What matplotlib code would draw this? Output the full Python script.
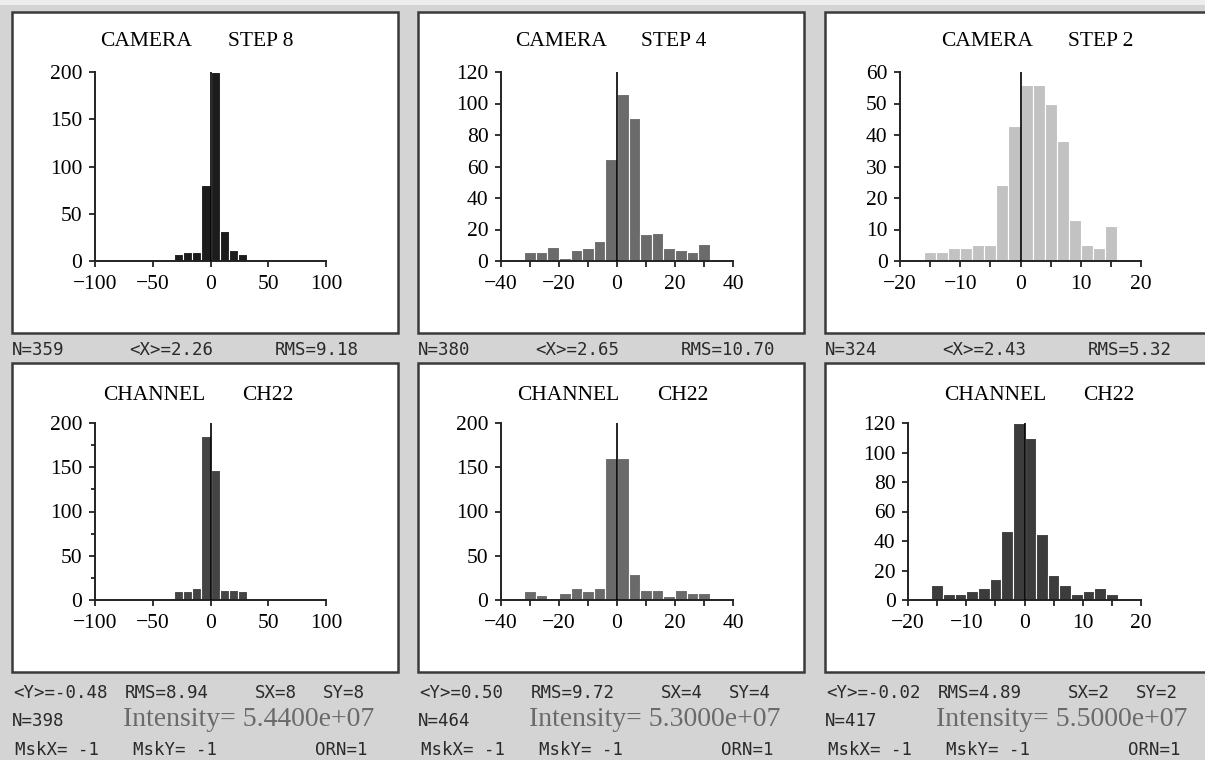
import matplotlib
matplotlib.use("Agg")
import matplotlib.pyplot as plt
from matplotlib.patches import Rectangle
from matplotlib.ticker import MultipleLocator

# ---- data ----
# top row: CAMERA, bins of 8 / 4 / 2
step8_centers = [-28, -20, -12, -4, 4, 12, 20, 28]
cam8_counts = [7, 10, 9, 80, 200, 32, 12, 7]

step4_centers = [-30, -26, -22, -18, -14, -10, -6, -2, 2, 6, 10, 14, 18, 22, 26, 30]
cam4_counts = [6, 6, 9, 2, 7, 8, 13, 65, 106, 91, 17, 18, 8, 7, 6, 11]

step2_centers = [-15, -13, -11, -9, -7, -5, -3, -1, 1, 3, 5, 7, 9, 11, 13, 15]
cam2_counts = [3, 3, 4, 4, 5, 5, 24, 43, 56, 56, 50, 38, 13, 5, 4, 11]

# bottom row: CHANNEL CH22
ch8_counts = [10, 10, 14, 185, 147, 11, 11, 10]
ch4_counts = [10, 6, 0, 8, 13, 10, 14, 161, 160, 29, 11, 11, 4, 11, 8, 8]
ch2_counts = [10, 4, 4, 6, 8, 14, 47, 120, 110, 45, 17, 10, 4, 6, 8, 4]

cam_labels = ["STEP 8", "STEP 4", "STEP 2"]
cam_stats = [("N=359", "<X>=2.26", "RMS=9.18"),
             ("N=380", "<X>=2.65", "RMS=10.70"),
             ("N=324", "<X>=2.43", "RMS=5.32")]
ch_stats = [("<Y>=-0.48", "RMS=8.94", "SX=8", "SY=8", "N=398", "Intensity= 5.4400e+07"),
            ("<Y>=0.50", "RMS=9.72", "SX=4", "SY=4", "N=464", "Intensity= 5.3000e+07"),
            ("<Y>=-0.02", "RMS=4.89", "SX=2", "SY=2", "N=417", "Intensity= 5.5000e+07")]

W, H = 1205, 760
fig = plt.figure(figsize=(W / 100, H / 100), dpi=100, facecolor="#d4d4d4")


def fx(px):
    return px / W


def fy(py):
    return 1 - py / H


def ax_at(left, right, top, bottom):
    return fig.add_axes([fx(left), fy(bottom), (right - left) / W, (bottom - top) / H])


# light strip at the very top
fig.add_artist(Rectangle((0, fy(5)), 1, 5 / H, transform=fig.transFigure,
                         facecolor="#ededed", edgecolor="none", zorder=-2))

# white frames (behind the axes)
lefts = [12, 418, 825]
rights = [398, 804, 1215]
for (top, bot) in [(12, 333), (363, 672)]:
    for l, r in zip(lefts, rights):
        fig.add_artist(Rectangle((fx(l), fy(bot)), (r - l) / W, (bot - top) / H,
                                 transform=fig.transFigure, facecolor="white",
                                 edgecolor="#3a3a3a", linewidth=1.8, zorder=-1))

serif = "Liberation Serif"
mono = "DejaVu Sans Mono"


def histo(ax, centers, counts, width, color, xmax, ymax, yticks, xminor=None, yminor=None):
    ax.bar(centers, counts, width=width, color=color, edgecolor="white", linewidth=0.8, zorder=2)
    ax.plot([0, 0], [0, ymax], color="black", lw=1.2, zorder=3)
    ax.set_xlim(-xmax, xmax)
    ax.set_ylim(0, ymax)
    ax.set_xticks([-xmax, -xmax / 2, 0, xmax / 2, xmax])
    ax.set_yticks(yticks)
    if xminor:
        ax.xaxis.set_minor_locator(MultipleLocator(xminor))
    if yminor:
        ax.yaxis.set_minor_locator(MultipleLocator(yminor))
    ax.patch.set_visible(False)
    ax.spines["top"].set_visible(False)
    ax.spines["right"].set_visible(False)
    for s in ["left", "bottom"]:
        ax.spines[s].set_linewidth(1.4)
        ax.spines[s].set_color("#222222")
    ax.tick_params(which="major", direction="out", length=4.5, width=1.3, color="#222222",
                   labelsize=15.5)
    ax.tick_params(axis="x", which="major", pad=5.5)
    ax.tick_params(axis="y", which="major", pad=4.5)
    ax.tick_params(which="minor", direction="out", length=4, width=1.3, color="#222222")
    ax.tick_params(axis="y", which="minor", length=3)
    ax.set_xticklabels([f"{int(v)}".replace("-", "\u2212") for v in ax.get_xticks()])
    for lab in ax.get_xticklabels() + ax.get_yticklabels():
        lab.set_fontfamily(serif)


# ---- top row ----
a1 = ax_at(95, 326, 72, 261)
histo(a1, step8_centers, cam8_counts, 8, "#1c1c1c", 100, 200, [0, 50, 100, 150, 200])
a2 = ax_at(501, 733, 72, 261)
histo(a2, step4_centers, cam4_counts, 4, "#6b6b6b", 40, 120, range(0, 121, 20), xminor=10)
a3 = ax_at(900, 1141, 72, 261)
histo(a3, step2_centers, cam2_counts, 2, "#c2c2c2", 20, 60, range(0, 61, 10), xminor=5)

# ---- bottom row ----
a4 = ax_at(95, 326, 423, 600)
histo(a4, step8_centers, ch8_counts, 8, "#444444", 100, 200, [0, 50, 100, 150, 200], yminor=25)
a5 = ax_at(501, 733, 423, 600)
histo(a5, step4_centers, ch4_counts, 4, "#6a6a6a", 40, 200, [0, 50, 100, 150, 200], xminor=10)
a6 = ax_at(908, 1141, 423, 600)
histo(a6, step2_centers, ch2_counts, 2, "#3c3c3c", 20, 120, range(0, 121, 20), xminor=5)

# ---- panel titles ----
cam_x = [(146, 261), (561, 674), (987, 1101)]
ch_x = [(154, 268), (568, 683), (995, 1109)]
for (xa, xb), lab in zip(cam_x, cam_labels):
    fig.text(fx(xa), fy(42), "CAMERA", family=serif, fontsize=15.5, ha="center", va="center")
    fig.text(fx(xb), fy(42), lab, family=serif, fontsize=15.5, ha="center", va="center")
for xa, xb in ch_x:
    fig.text(fx(xa), fy(396), "CHANNEL", family=serif, fontsize=15.5, ha="center", va="center")
    fig.text(fx(xb), fy(396), "CH22", family=serif, fontsize=15.5, ha="center", va="center")

# ---- status lines ----
stat_col = "#2a2a2a"
fs = 12.5
for l, (n, mx, rms) in zip(lefts, cam_stats):
    fig.text(fx(l), fy(350), n, family=mono, fontsize=fs, color=stat_col, va="center")
    fig.text(fx(l + 117), fy(350), mx, family=mono, fontsize=fs, color=stat_col, va="center")
    fig.text(fx(l + 263), fy(350), rms, family=mono, fontsize=fs, color=stat_col, va="center")

for l, (my, rms, sx, sy, n, inten) in zip(lefts, ch_stats):
    fig.text(fx(l + 1), fy(693), my, family=mono, fontsize=fs, color=stat_col, va="center")
    fig.text(fx(l + 113), fy(693), rms, family=mono, fontsize=fs, color=stat_col, va="center")
    fig.text(fx(l + 243), fy(693), sx, family=mono, fontsize=fs, color=stat_col, va="center")
    fig.text(fx(l + 311), fy(693), sy, family=mono, fontsize=fs, color=stat_col, va="center")
    fig.text(fx(l), fy(721), n, family=mono, fontsize=fs, color=stat_col, va="center")
    fig.text(fx(l + 111), fy(719), inten, family=serif, fontsize=20, color="#6a6a6a", va="center")
    fig.text(fx(l + 3), fy(750), "MskX= -1", family=mono, fontsize=fs, color=stat_col, va="center")
    fig.text(fx(l + 121), fy(750), "MskY= -1", family=mono, fontsize=fs, color=stat_col, va="center")
    fig.text(fx(l + 303), fy(750), "ORN=1", family=mono, fontsize=fs, color=stat_col, va="center")

fig.savefig("out.png", dpi=100, facecolor=fig.get_facecolor())
